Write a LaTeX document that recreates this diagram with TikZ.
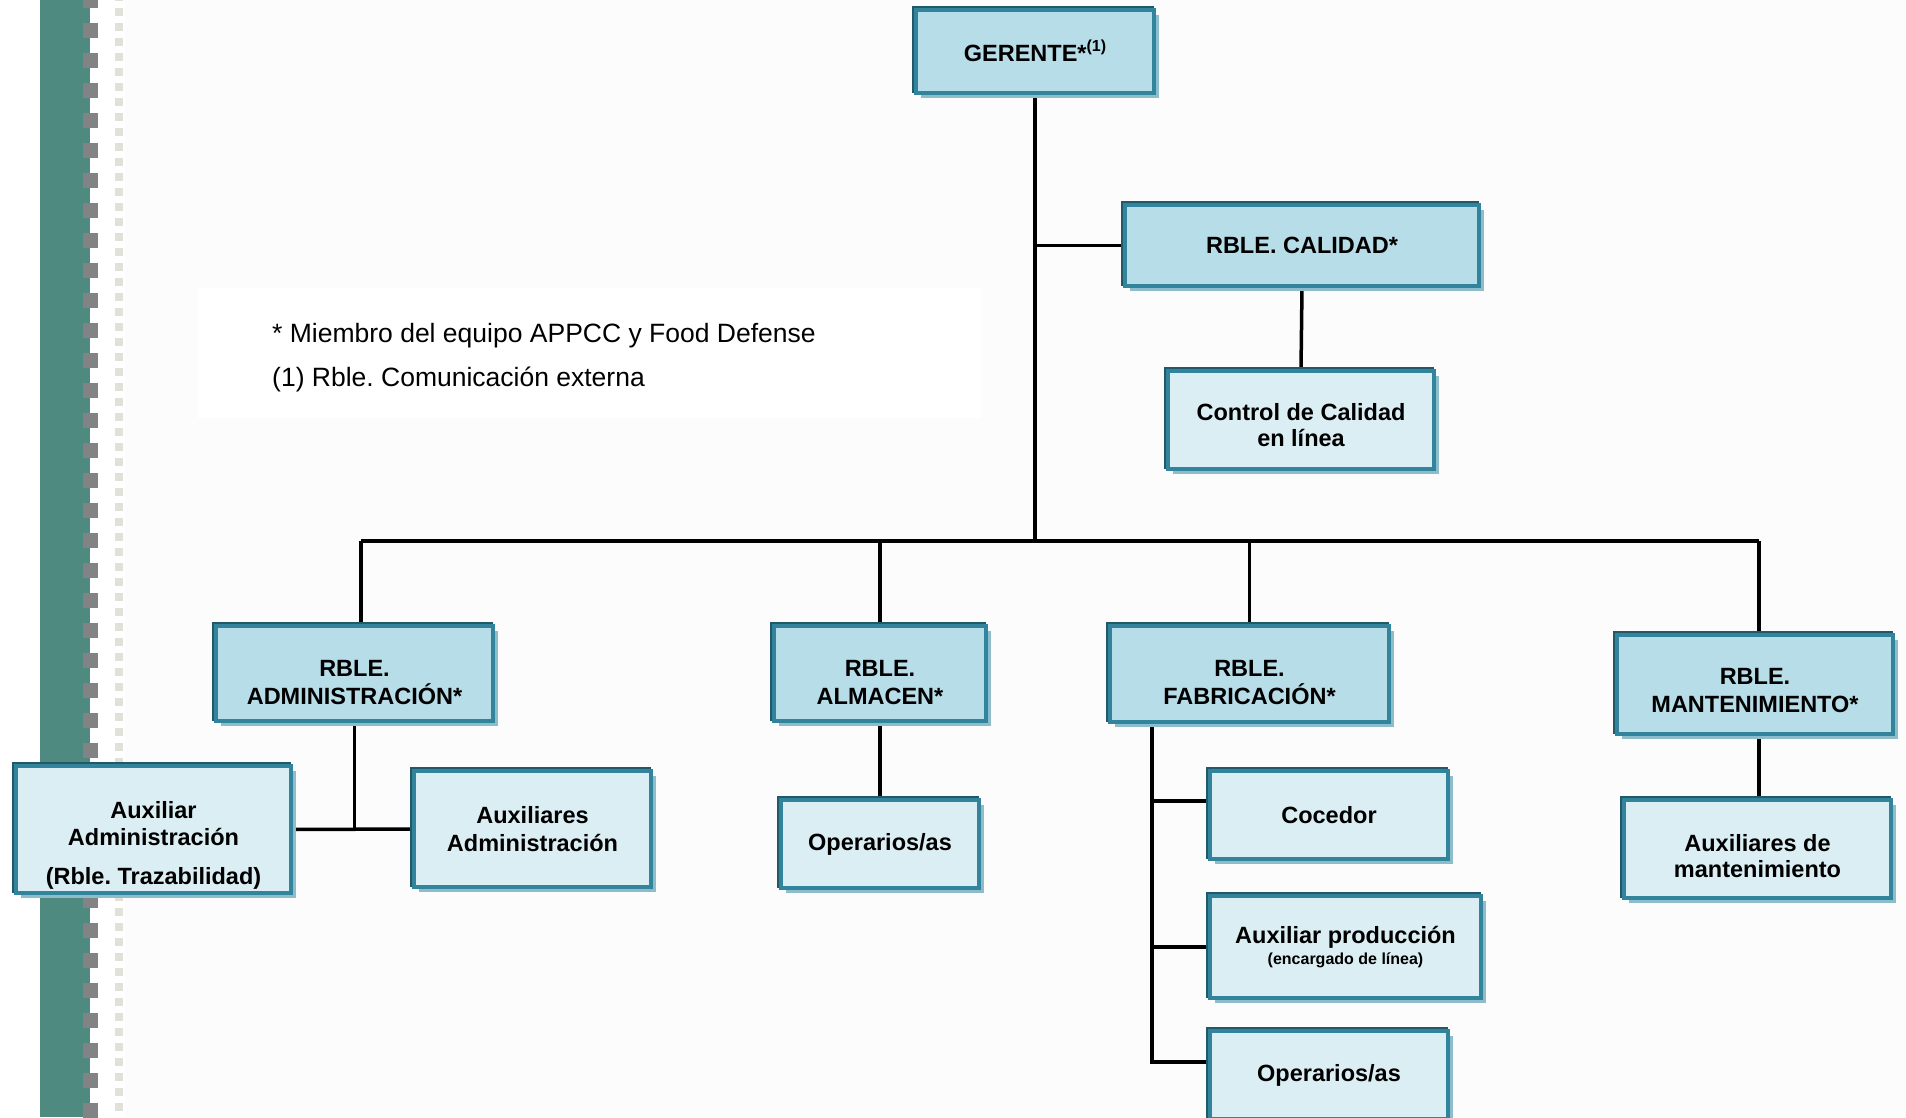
\documentclass[tikz,border=0pt]{standalone}
\usepackage{fontspec}
\setmainfont{Liberation Sans}
\frenchspacing
\pgfdeclarelayer{bg}
\pgfsetlayers{bg,main}
\definecolor{hiC}{HTML}{B7DDE8}
\definecolor{loC}{HTML}{DAEEF3}
\definecolor{bordC}{HTML}{31849B}
\definecolor{darkC}{HTML}{215968}
\definecolor{shadC}{HTML}{8DBDCB}
\definecolor{stripC}{HTML}{4F8A80}
\definecolor{sqC}{HTML}{818385}
\definecolor{dotC}{HTML}{E1E1DA}
\definecolor{bgC}{HTML}{FCFCFC}
\newcommand\bxfont{\bfseries\fontsize{23.5}{28}\selectfont}
\tikzset{
  box/.style={rectangle, draw=bordC, line width=4pt, fill=#1, inner sep=0pt,
    preaction={fill=shadC, draw=none, transform canvas={shift={(5pt,-5pt)}}},
    preaction={draw=darkC, fill=none, line width=4pt, transform canvas={shift={(-2pt,2pt)}}}},
  lbl/.style={font=\bxfont, align=center, inner sep=0pt, text=black},
  conn/.style={draw=black, line width=3.5pt},
}
\begin{document}
\begin{tikzpicture}[x=1pt,y=-1pt]
\useasboundingbox (0,0) rectangle (1906,1117);
\begin{pgfonlayer}{bg}
  \fill[white] (0,0) rectangle (1906,1117);
  \fill[bgC] (125,0) rectangle (1906,1117);
  \fill[stripC] (40,0) rectangle (90,1117);
  \foreach \k in {0,...,38} {
    \fill[sqC] (83,{-7+30*\k}) rectangle (98,{8+30*\k});
  }
  \foreach \k in {0,...,75} {
    \fill[dotC] (115,{-7+15*\k}) rectangle (123,{1+15*\k});
  }
\end{pgfonlayer}

% note
\node[fill=white, inner sep=0pt, minimum width=784pt, minimum height=130pt] (notebox) at (590,353) {};
\node[anchor=base west, inner sep=0pt, font=\fontsize{26.5}{30}\selectfont] (note1) at (272,342) {* Miembro del equipo APPCC y Food Defense};
\node[anchor=base west, inner sep=0pt, font=\fontsize{26.5}{30}\selectfont] (note2) at (272,386) {(1) Rble. Comunicación externa};

% boxes
\node[box=hiC, minimum width=238pt, minimum height=83pt] (ger) at (1035,51.5) {};
\node[lbl] (ger-t) at ([yshift=1pt]ger.center) {GERENTE*\raisebox{10pt}{\fontsize{16}{16}\selectfont(1)}};

\node[box=hiC, minimum width=354pt, minimum height=81pt] (cal) at (1302,245.5) {};
\node[lbl] (cal-t) at (cal.center) {RBLE. CALIDAD*};

\node[box=loC, minimum width=266pt, minimum height=98pt] (ctrl) at (1301,420) {};
\node[lbl] (ctrl-t) at ([yshift=-5pt]ctrl.center) {Control de Calidad\\[-2pt]en línea};

\node[box=hiC, minimum width=277pt, minimum height=95pt] (admin) at (354.5,673.5) {};
\node[lbl] (admin-t) at ([yshift=-9pt]admin.center) {RBLE.\\ADMINISTRACIÓN*};

\node[box=hiC, minimum width=212pt, minimum height=95pt] (alm) at (880,673.5) {};
\node[lbl] (alm-t) at ([yshift=-9pt]alm.center) {RBLE.\\ALMACEN*};

\node[box=hiC, minimum width=279pt, minimum height=96pt] (fab) at (1249.5,674) {};
\node[lbl] (fab-t) at ([yshift=-9pt]fab.center) {RBLE.\\FABRICACIÓN*};

\node[box=hiC, minimum width=276pt, minimum height=99pt] (mant) at (1755,684.5) {};
\node[lbl] (mant-t) at ([yshift=-6pt]mant.center) {RBLE.\\MANTENIMIENTO*};

\node[box=loC, minimum width=275pt, minimum height=127pt] (auxa) at (153.5,829.5) {};
\node[lbl] (auxa-t) at ([yshift=-16pt]auxa.center) {Auxiliar\\[-1pt]Administración\\[11pt](Rble. Trazabilidad)};

\node[box=loC, minimum width=237pt, minimum height=116pt] (auxb) at (532.5,829) {};
\node[lbl] (auxb-t) at (auxb.center) {Auxiliares\\Administración};

\node[box=loC, minimum width=198pt, minimum height=88pt] (opa) at (880,844) {};
\node[lbl] (opa-t) at (opa.center) {Operarios/as};

\node[box=loC, minimum width=238pt, minimum height=88pt] (coc) at (1329,815) {};
\node[lbl] (coc-t) at (coc.center) {Cocedor};

\node[box=loC, minimum width=271pt, minimum height=102pt] (aux) at (1345.5,947) {};
\node[lbl] (aux-t) at (aux.center) {Auxiliar producción\\[-7pt]{\fontsize{16}{19}\selectfont (encargado de línea)}};

\node[box=loC, minimum width=238pt, minimum height=88pt] (opf) at (1329,1075) {};
\node[lbl] (opf-t) at (opf.center) {Operarios/as};

\node[box=loC, minimum width=267pt, minimum height=98pt] (auxm) at (1757.5,849) {};
\node[lbl] (auxm-t) at ([yshift=-7pt]auxm.center) {Auxiliares de\\[-2pt]mantenimiento};

% connectors
\coordinate (busL) at (361,541);
\coordinate (busR) at (1759,541);
\coordinate (fabT) at ([xshift=-97.5pt]fab.south);
\coordinate (cocJ) at ([yshift=14pt]coc.west);
\coordinate (opfJ) at ([yshift=13pt]opf.west);
\begin{pgfonlayer}{bg}
  \draw[conn] (ger.south) -- (ger.south |- busL);
  \draw[conn] (busL) -- (busR);
  \draw[conn] (ger.south |- cal.west) -- (cal.west);
  \draw[conn] (cal.south) -- (ctrl.north);
  \draw[conn] (busL) -- (busL |- admin.north);
  \draw[conn] (alm.north |- busL) -- (alm.north);
  \draw[conn] (fab.north |- busL) -- (fab.north);
  \draw[conn] (busR) -- (busR |- mant.north);
  \draw[conn] (admin.south) -- (admin.south |- auxa.east);
  \draw[conn] (auxa.east) -- (auxb.west);
  \draw[conn] (alm.south) -- (opa.north);
  \draw[conn] (fabT) |- (opfJ);
  \draw[conn] (fabT |- cocJ) -- (cocJ);
  \draw[conn] (fabT |- aux.west) -- (aux.west);
  \draw[conn] (busR |- mant.south) -- (busR |- auxm.north);
\end{pgfonlayer}
\end{tikzpicture}
\end{document}
